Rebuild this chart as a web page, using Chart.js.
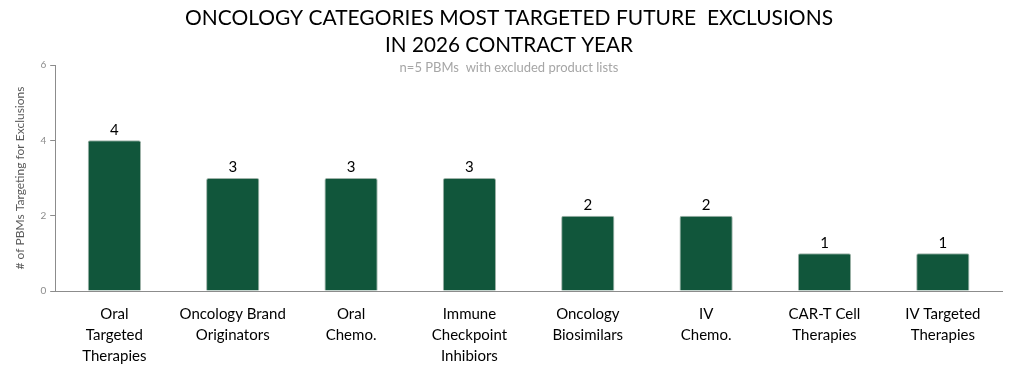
<!DOCTYPE html>
<html><head><meta charset="utf-8">
<script src="https://cdn.jsdelivr.net/npm/chart.js@4/dist/chart.umd.min.js"></script>
<style>html,body{margin:0;padding:0;background:#fff}#wrap{width:1009px;height:371px}</style>
</head><body><div id="wrap"><canvas id="c"></canvas></div>
<script>
const categories = [["Oral","Targeted","Therapies"],["Oncology Brand","Originators"],["Oral","Chemo."],["Immune","Checkpoint","Inhibiors"],["Oncology","Biosimilars"],["IV","Chemo."],["CAR-T Cell","Therapies"],["IV Targeted","Therapies"]];
const values = [4,3,3,3,2,2,1,1];
const yTicks = [0,2,4,6];
const titleLines = ["ONCOLOGY CATEGORIES MOST TARGETED FUTURE  EXCLUSIONS","IN 2026 CONTRACT YEAR"];
const subtitle = "n=5 PBMs  with excluded product lists";
const yTitle = "# of PBMs Targeting for Exclusions";

const FONT = "Lato, 'Open Sans', sans-serif";
const headerPlugin = {
  id:'header',
  afterDraw(chart){
    const ctx = chart.ctx;
    ctx.save();
    ctx.textAlign='center'; ctx.textBaseline='middle';
    ctx.fillStyle='#000';
    ctx.font = "22px " + FONT;
    ctx.fillText(titleLines[0], 509, 18, 648);
    ctx.fillText(titleLines[1], 509, 45, 248);
    ctx.fillStyle='#a6a6a6';
    ctx.font = "13px " + FONT;
    ctx.fillText(subtitle, 509, 68, 232);
    const meta = chart.getDatasetMeta(0);
    ctx.fillStyle='#000';
    ctx.font = "15px " + FONT;
    ctx.textBaseline='bottom';
    meta.data.forEach((bar,i)=>{
      ctx.fillText(String(values[i]), bar.x, bar.y-3);
    });
    ctx.restore();
  }
};

new Chart(document.getElementById('c'), {
  type:'bar',
  data:{labels:categories, datasets:[{data:values, backgroundColor:'#11563b', borderColor:'#9fb3a9', borderWidth:1, borderRadius:2, borderSkipped:'bottom', barPercentage:0.45, categoryPercentage:1}]},
  options:{
    responsive:true, maintainAspectRatio:false, animation:false,
    layout:{padding:{top:65, right:7, left:13, bottom:0}},
    plugins:{legend:{display:false}, tooltip:{enabled:false}, title:{display:false}},
    scales:{
      x:{grid:{display:false, drawTicks:false}, border:{color:'#8c8c8c', width:1},
         afterFit(ax){ ax.height = 80; },
         ticks:{color:'#000', font:{family:FONT, size:15, lineHeight:1.4}, padding:13, maxRotation:0, autoSkip:false}},
      y:{min:0, max:6, afterBuildTicks(ax){ax.ticks = yTicks.map(v=>({value:v}));},
         grid:{drawOnChartArea:false, drawTicks:true, tickLength:5, color:'#8c8c8c'},
         border:{color:'#8c8c8c', width:1},
         ticks:{color:'#8c8c8c', font:{family:FONT, size:10}, padding:4},
         title:{display:true, text:yTitle, color:'#595959', font:{family:FONT, size:12}, padding:{top:0,bottom:9}}}
    }
  },
  plugins:[headerPlugin]
});
</script></body></html>
